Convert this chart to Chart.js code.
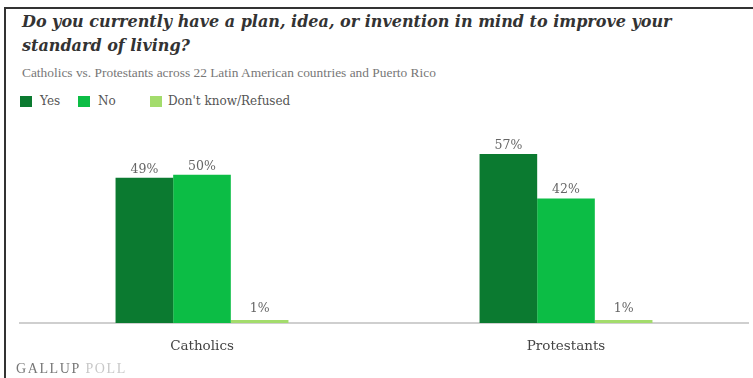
<!DOCTYPE html>
<html>
<head>
<meta charset="utf-8">
<script src="https://cdn.jsdelivr.net/npm/chart.js@4/dist/chart.umd.min.js"></script>
<style>
  html, body { margin: 0; padding: 0; background: #fff; }
  #frame { position: relative; width: 753px; height: 378px; overflow: hidden; background: #fff; }
  #frame .border-top { position: absolute; left: 4px; top: 7px; right: 0; height: 2px; background: #333; }
  #frame .border-left { position: absolute; left: 4px; top: 7px; bottom: 0; width: 2px; background: #333; }
  .title { position: absolute; left: 22px; top: 10px; white-space: nowrap; font-family: "DejaVu Serif", serif; font-weight: bold; font-style: italic; font-size: 16px; line-height: 24px; color: #333; }
  .subtitle { position: absolute; left: 22px; top: 65px; font-family: "Liberation Serif", serif; font-size: 13.4px; color: #777; white-space: nowrap; }
  .legend { position: absolute; top: 93px; left: 0; font-family: "DejaVu Serif", serif; font-size: 12px; color: #555; }
  .legend span { position: absolute; white-space: nowrap; top: 0; line-height: 16px; }
  .legend i { position: absolute; top: 3px; width: 12px; height: 11px; }
  .footer { position: absolute; left: 16px; top: 361px; font-family: "Liberation Serif", serif; font-size: 14px; letter-spacing: 1.6px; white-space: nowrap; }
  .footer b { color: #777; font-weight: normal; }
  .footer em { font-style: normal; color: #c8c8c8; }
  #chart { position: absolute; left: 0; top: 0; }
</style>
</head>
<body>
<div id="frame">
  <div class="border-top"></div>
  <div class="border-left"></div>
  <div class="title">Do you currently have a plan, idea, or invention in mind to improve your<br>standard of living?</div>
  <div class="subtitle">Catholics vs. Protestants across 22 Latin American countries and Puerto Rico</div>
  <div class="legend" id="legend"></div>
  <canvas id="chart" width="753" height="378"></canvas>
  <div class="footer"><b>GALLUP</b> <em>POLL</em></div>
</div>
<script>
const groups = ['Catholics', 'Protestants'];
const seriesNames = ['Yes', 'No', "Don't know/Refused"];
const yesValues = [49, 57];
const noValues = [50, 42];
const dkValues = [1, 1];
const seriesColors = ['#0b7a30', '#0cbd45', '#a3dc6c'];

// legend squares/text positions
const legendPos = [[20, 40], [78, 98], [150, 168]];
document.getElementById('legend').innerHTML = seriesNames.map((n, i) =>
  `<i style="left:${legendPos[i][0]}px;background:${seriesColors[i]}"></i><span style="left:${legendPos[i][1]}px">${n}</span>`
).join('');

const valueLabels = {
  id: 'valueLabels',
  afterDatasetsDraw(chart) {
    const ctx = chart.ctx;
    ctx.save();
    ctx.font = '12.5px "DejaVu Serif", serif';
    ctx.fillStyle = '#666';
    ctx.textAlign = 'center';
    ctx.textBaseline = 'bottom';
    chart.data.datasets.forEach((ds, di) => {
      chart.getDatasetMeta(di).data.forEach((bar, i) => {
        const y = ds.data[i] <= 2 ? bar.y - 5 : bar.y - 2;
        ctx.fillText(ds.data[i] + '%', bar.x, y);
      });
    });
    ctx.restore();
  }
};

new Chart(document.getElementById('chart'), {
  type: 'bar',
  data: {
    labels: groups,
    datasets: [
      { label: seriesNames[0], data: yesValues, backgroundColor: seriesColors[0] },
      { label: seriesNames[1], data: noValues, backgroundColor: seriesColors[1] },
      { label: seriesNames[2], data: dkValues, backgroundColor: seriesColors[2] }
    ]
  },
  options: {
    responsive: false,
    animation: false,
    layout: { padding: { top: 145, left: 20, right: 5, bottom: 24 } },
    plugins: { legend: { display: false }, tooltip: { enabled: false } },
    datasets: { bar: { categoryPercentage: 0.475, barPercentage: 1 } },
    scales: {
      x: {
        grid: { display: false },
        border: { display: true, color: '#cfcfcf', width: 2 },
        ticks: { color: '#444', padding: 7, font: { family: '"DejaVu Serif", serif', size: 13.5 } },
        afterFit: s => { s.height = 31; }
      },
      y: { display: false, min: 0, max: 60 }
    }
  },
  plugins: [valueLabels]
});
</script>
</body>
</html>
